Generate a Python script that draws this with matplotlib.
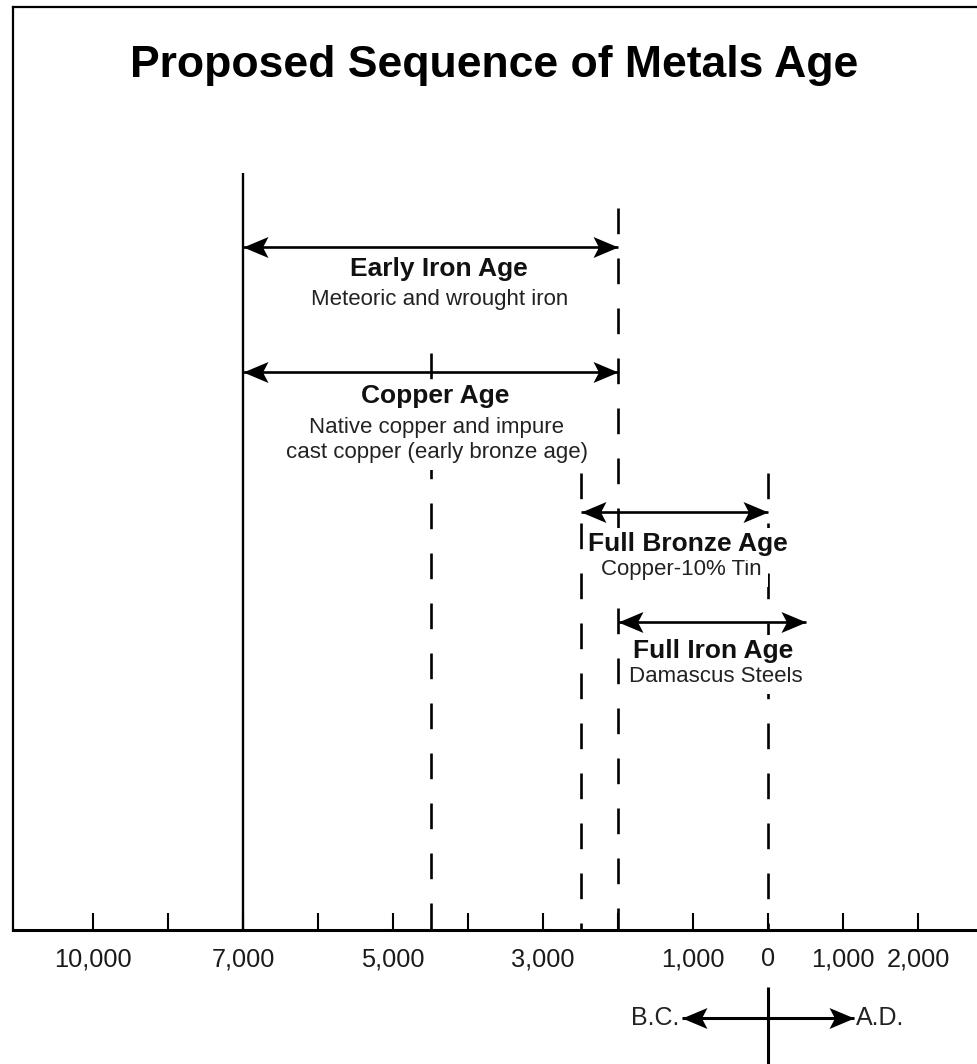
import numpy as np
import matplotlib
matplotlib.use("Agg")
import matplotlib.pyplot as plt
from matplotlib.path import Path
from matplotlib.markers import MarkerStyle

# ---------------- data ----------------
title = "Proposed Sequence of Metals Age"
periods = ["Early Iron Age", "Copper Age", "Full Bronze Age", "Full Iron Age"]
descriptions = ["Meteoric and wrought iron",
                "Native copper and impure\ncast copper (early bronze age)",
                "Copper-10% Tin",
                "Damascus Steels"]
start_year = [-7000, -7000, -2500, -2000]   # negative = B.C.
end_year = [-2000, -2000, 0, 500]
boundary_year = [-7000, -4500, -2500, -2000, 0]
boundary_solid = [True, False, False, False, False]
tick_years = [-10000, -8500, -7000, -6000, -5000, -4000, -3000, -2000, -1000, 0, 1000, 2000]
tick_labels = ["10,000", "", "7,000", "", "5,000", "", "3,000", "", "1,000", "0", "1,000", "2,000"]
era_labels = ["B.C.", "A.D."]

# ---------------- layout (pixels from top of figure) ----------------
W, H = 977, 1064
AX_LEFT, AX_TOP, AX_BOTTOM = 13, 7, 930
arrow_py = [247, 372, 512, 622]
name_py = [269, 396, 544, 651]
desc_py = [299, 440, 570, 677]
name_dx = [8, 5, 14, 1]
desc_dx = [9, 6, 7, 4]
boundary_top_py = [173, 353, 473, 208, 473]
era_arrow_py = 1018
era_vline_py = (987, 1064)
era_half = 1150

plt.rcParams["font.family"] = ["Liberation Sans", "DejaVu Sans"]
plt.rcParams["lines.scale_dashes"] = False


def fwd(y):
    y = np.asarray(y, dtype=float)
    return np.where(y < -7000, (y + 10000) / 1500.0, 2 + (y + 7000) / 1000.0)


def inv(p):
    p = np.asarray(p, dtype=float)
    return np.where(p < 2, p * 1500.0 - 10000, (p - 2) * 1000.0 - 7000)


def yv(py):
    return AX_BOTTOM - py


fig = plt.figure(figsize=(W / 100, H / 100), dpi=100)
ax = fig.add_axes([AX_LEFT / W, (H - AX_BOTTOM) / H, 1 - AX_LEFT / W, (AX_BOTTOM - AX_TOP) / H])
ax.set_xscale("function", functions=(fwd, inv))
px_per_unit = 75.0
x_left = float(inv(2 - (243 - AX_LEFT) / px_per_unit))
x_right = float(inv(2 + (W - 243) / px_per_unit))
ax.set_xlim(x_left, x_right)
ax.set_ylim(0, AX_BOTTOM - AX_TOP)

for s in ["left", "top"]:
    ax.spines[s].set_linewidth(1.6)
ax.spines["bottom"].set_linewidth(2.2)
ax.spines["right"].set_visible(False)
ax.set_yticks([])
ax.set_xticks(tick_years)
ax.set_xticklabels(tick_labels)
ax.xaxis.set_minor_locator(matplotlib.ticker.NullLocator())
ax.tick_params(axis="x", direction="in", length=12.5, width=1.5, labelsize=18.3, pad=12.5, colors="black")
for lbl in ax.get_xticklabels():
    lbl.set_color("#1a1a1a")

# stealth arrow heads
head_r = Path([(0, 0), (-1, 0.42), (-0.78, 0), (-1, -0.42), (0, 0)],
              [Path.MOVETO, Path.LINETO, Path.LINETO, Path.LINETO, Path.CLOSEPOLY])
head_l = Path([(0, 0), (1, 0.42), (0.78, 0), (1, -0.42), (0, 0)],
              [Path.MOVETO, Path.LINETO, Path.LINETO, Path.LINETO, Path.CLOSEPOLY])
mk_r = MarkerStyle(head_r)
mk_l = MarkerStyle(head_l)
HEAD_MS = 36

# boundary lines
for yr, top, solid in zip(boundary_year, boundary_top_py, boundary_solid):
    ls = "-" if solid else (0, (18.5, 17.5))
    ax.plot([yr, yr], [yv(top), 0], color="black", lw=1.7 if solid else 1.9,
            linestyle=ls, solid_capstyle="butt", dash_capstyle="butt", zorder=2)

name_bbox = dict(boxstyle="square,pad=0.15", fc="white", ec="none")
desc_bbox = dict(boxstyle="square,pad=0.3", fc="white", ec="none")

for i, (name, desc, s, e) in enumerate(zip(periods, descriptions, start_year, end_year)):
    y = yv(arrow_py[i])
    ax.plot([s, e], [y, y], color="black", lw=1.9, solid_capstyle="butt", zorder=4)
    ax.plot([e], [y], marker=mk_r, ms=HEAD_MS, color="black", mew=0, zorder=5)
    ax.plot([s], [y], marker=mk_l, ms=HEAD_MS, color="black", mew=0, zorder=5)
    xmid = float(inv((fwd(s) + fwd(e)) / 2))
    ax.annotate(desc, xy=(xmid, yv(desc_py[i])), xytext=(desc_dx[i] * 0.72, 0),
                textcoords="offset points", ha="center", va="center", linespacing=1.25,
                fontsize=16, color="#222222", bbox=desc_bbox, zorder=6)
    ax.annotate(name, xy=(xmid, yv(name_py[i])), xytext=(name_dx[i] * 0.72, 0),
                textcoords="offset points", ha="center", va="center",
                fontsize=19, fontweight="bold", color="#111111", bbox=name_bbox, zorder=6)

# B.C. / A.D. indicator below the axis
ax.plot([0, 0], [yv(era_vline_py[0]), yv(era_vline_py[1])], color="black", lw=2.2,
        solid_capstyle="butt", clip_on=False)
ya = yv(era_arrow_py)
ax.plot([-era_half, era_half], [ya, ya], color="black", lw=2.2, solid_capstyle="butt", clip_on=False)
ax.plot([era_half], [ya], marker=mk_r, ms=HEAD_MS, color="black", mew=0, clip_on=False)
ax.plot([-era_half], [ya], marker=mk_l, ms=HEAD_MS, color="black", mew=0, clip_on=False)
ax.annotate(era_labels[0], xy=(-era_half, ya), xytext=(-1.5, 0), textcoords="offset points",
            ha="right", va="center", fontsize=18, color="#222222", annotation_clip=False)
ax.annotate(era_labels[1], xy=(era_half, ya), xytext=(1.5, 0), textcoords="offset points",
            ha="left", va="center", fontsize=18, color="#222222", annotation_clip=False)

fig.text(494 / W, 1 - 65 / H, title, ha="center", va="center", fontsize=32, fontweight="bold")

fig.savefig("out.png", dpi=100)
